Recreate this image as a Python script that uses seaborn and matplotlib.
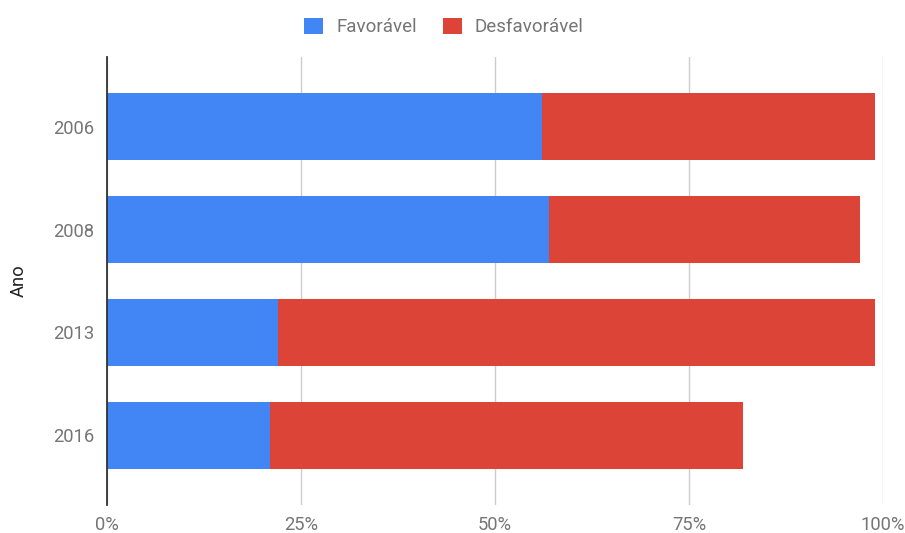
import matplotlib
matplotlib.use("Agg")
import matplotlib.pyplot as plt
import matplotlib.ticker as mticker
from matplotlib.patches import Patch
import seaborn as sns
import pandas as pd

anos = ["2006", "2008", "2013", "2016"]
favoravel = [56, 57, 22, 21]
desfavoravel = [43, 40, 77, 61]
x_ticks = [0, 25, 50, 75, 100]
series_names = ["Favorável", "Desfavorável"]

BLUE = "#4285F4"
RED = "#DB4437"
TXT = "#757575"

sns.set_theme(style="white")
plt.rcParams["font.family"] = ["Roboto", "DejaVu Sans"]

df = pd.DataFrame({"Ano": anos, "fav": favoravel, "desf": desfavoravel})
df["total"] = df["fav"] + df["desf"]

fig = plt.figure(figsize=(9.05, 5.33), dpi=100)
ax = fig.add_axes([107 / 905, 1 - 505 / 533, (883 - 107) / 905, (505 - 57) / 533])

sns.barplot(data=df, x="total", y="Ano", color=RED, width=0.65, ax=ax,
            saturation=1, linewidth=0, zorder=3)
sns.barplot(data=df, x="fav", y="Ano", color=BLUE, width=0.65, ax=ax,
            saturation=1, linewidth=0, zorder=4)

ax.set_xlim(0, 100)
ax.set_ylim(3.675, -0.675)
ax.set_xticks(x_ticks)
ax.xaxis.set_major_formatter(mticker.FuncFormatter(lambda v, p: f"{int(v)}%"))
ax.grid(axis="x", color="#CCCCCC", linewidth=1, zorder=0)
ax.grid(axis="y", visible=False)
for s in ["top", "right", "bottom"]:
    ax.spines[s].set_visible(False)
ax.spines["left"].set_color("#333333")
ax.spines["left"].set_linewidth(1.3)
ax.spines["left"].set_zorder(5)
ax.tick_params(axis="x", length=0, pad=8, labelsize=13.2, labelcolor=TXT)
ax.tick_params(axis="y", length=0, pad=9, labelsize=13.2, labelcolor=TXT)
ax.set_xlabel("")
ax.set_ylabel("Ano", fontsize=13.2, color="#222222", labelpad=18)

handles = [Patch(facecolor=BLUE, edgecolor="none"), Patch(facecolor=RED, edgecolor="none")]
leg = fig.legend(handles, series_names, loc="center", bbox_to_anchor=(444 / 905, 1 - 27 / 533),
                 ncol=2, frameon=False, fontsize=13.5, handlelength=1.0, handleheight=1.0,
                 handletextpad=0.7, columnspacing=1.4)
for t in leg.get_texts():
    t.set_color(TXT)

fig.savefig("out.png", dpi=100)
